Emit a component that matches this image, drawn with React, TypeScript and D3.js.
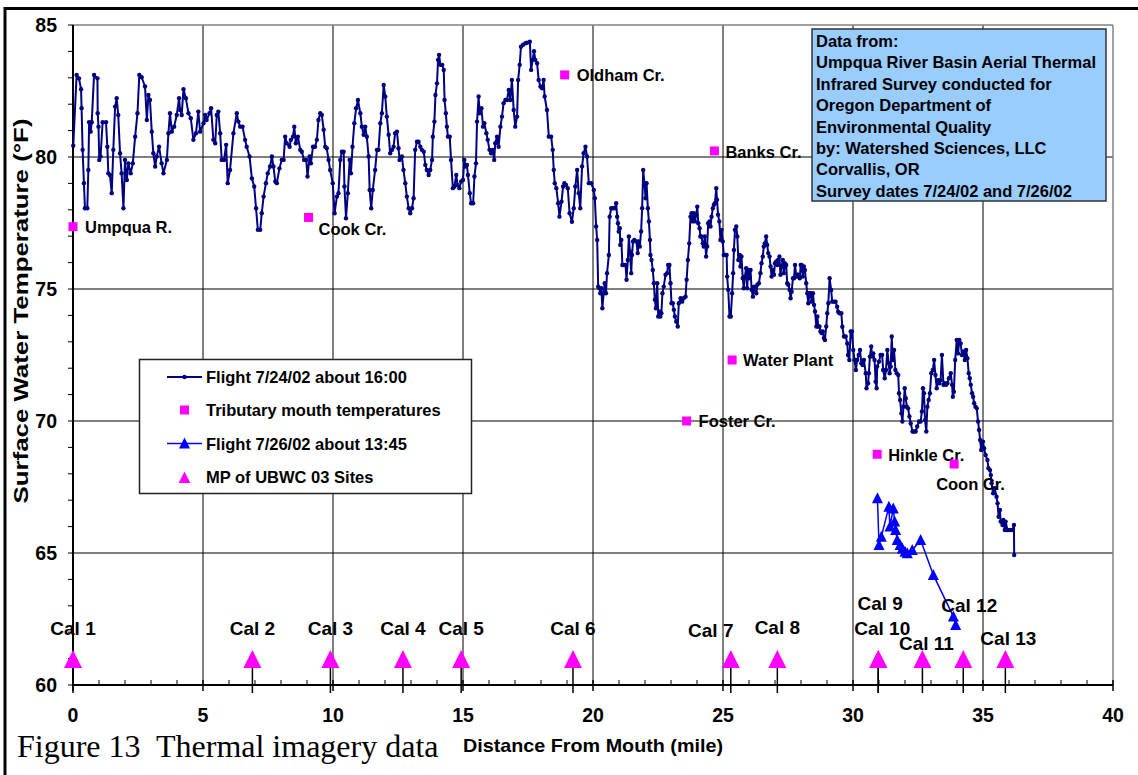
import React from 'react';
import * as d3 from 'd3';

// ---------------- DATA ----------------
const flight0724: [number, number][] = [
  [0.01,80.43],[0.14,83.11],[0.23,82.98],[0.31,82.57],[0.33,81.85],[0.37,80.27],[0.42,79.01],[0.46,78.06],[0.55,78.06],[0.59,79.51],[0.62,81.32],[0.68,80.96],[0.72,81.32],[0.81,83.11],[0.94,82.98],[0.95,81.66],[0.98,81.15],[1.01,79.89],[1.06,80.02],[1.14,81.32],[1.27,81.32],[1.32,80.39],[1.36,79.38],[1.42,79.32],[1.49,78.63],[1.55,80.27],[1.62,81.91],[1.68,82.23],[1.74,81.59],[1.81,80.14],[1.87,79.38],[1.94,78.06],[2.00,79.89],[2.07,79.13],[2.13,79.76],[2.22,79.38],[2.30,79.76],[2.39,80.77],[2.48,81.66],[2.55,83.11],[2.64,83.02],[2.77,82.67],[2.84,81.40],[2.90,82.35],[2.96,82.16],[3.03,80.96],[3.09,80.14],[3.16,79.64],[3.22,80.02],[3.31,80.39],[3.41,79.76],[3.48,79.38],[3.61,79.89],[3.67,80.90],[3.73,81.66],[3.80,80.96],[3.89,81.15],[3.99,81.59],[4.08,82.23],[4.12,81.78],[4.18,81.59],[4.25,82.57],[4.34,82.23],[4.44,81.66],[4.53,81.47],[4.63,80.65],[4.73,80.90],[4.82,81.72],[4.89,80.96],[5.02,81.28],[5.08,81.59],[5.14,81.40],[5.25,81.66],[5.31,81.85],[5.40,80.65],[5.47,80.52],[5.53,81.59],[5.59,81.72],[5.66,80.90],[5.72,79.89],[5.81,79.89],[5.89,80.46],[5.95,79.01],[6.04,79.51],[6.17,80.90],[6.30,81.66],[6.36,81.34],[6.43,81.15],[6.52,81.15],[6.62,80.65],[6.68,80.39],[6.79,80.02],[6.88,79.19],[6.97,78.88],[7.04,78.06],[7.11,77.24],[7.20,77.24],[7.26,77.87],[7.33,78.50],[7.42,79.01],[7.49,79.38],[7.58,79.64],[7.65,80.02],[7.71,79.64],[7.78,79.07],[7.84,79.01],[7.94,79.57],[8.03,79.89],[8.10,79.89],[8.16,80.77],[8.22,80.52],[8.33,80.39],[8.38,80.65],[8.46,80.77],[8.51,81.15],[8.57,80.52],[8.65,80.77],[8.74,80.27],[8.80,80.20],[8.89,79.89],[8.97,79.89],[9.02,79.26],[9.10,80.02],[9.15,79.76],[9.23,80.39],[9.31,80.39],[9.38,80.65],[9.44,81.40],[9.51,81.66],[9.57,81.59],[9.64,81.03],[9.70,80.39],[9.76,80.33],[9.83,79.89],[9.89,79.51],[9.99,79.01],[10.06,77.87],[10.15,78.50],[10.21,78.63],[10.28,79.89],[10.34,80.20],[10.41,80.20],[10.44,78.88],[10.50,77.68],[10.57,78.63],[10.64,79.89],[10.69,79.38],[10.75,80.39],[10.82,81.28],[10.89,81.85],[10.96,82.16],[11.05,81.66],[11.11,81.15],[11.18,80.84],[11.24,81.15],[11.30,80.77],[11.37,80.02],[11.41,78.75],[11.47,78.06],[11.53,78.75],[11.62,79.51],[11.69,80.27],[11.75,80.27],[11.82,81.28],[11.88,81.66],[11.95,82.73],[12.01,82.29],[12.07,81.53],[12.14,80.84],[12.20,80.14],[12.27,80.27],[12.33,80.39],[12.39,80.90],[12.46,80.96],[12.52,80.33],
  [12.56,79.89],[12.65,80.02],[12.71,79.51],[12.78,79.01],[12.84,78.50],[12.91,78.06],[12.97,77.87],[13.04,78.06],[13.10,78.44],[13.16,80.27],[13.23,80.58],[13.29,80.58],[13.36,80.39],[13.42,80.27],[13.49,80.20],[13.55,79.70],[13.61,79.51],[13.68,79.32],[13.74,79.51],[13.81,79.89],[13.84,80.77],[13.90,81.34],[13.94,82.35],[14.00,82.79],[14.04,83.68],[14.08,83.87],[14.13,83.49],[14.20,83.49],[14.26,83.30],[14.29,82.16],[14.34,81.66],[14.38,81.15],[14.42,80.77],[14.49,80.77],[14.54,79.89],[14.61,78.82],[14.67,78.88],[14.74,79.32],[14.79,78.94],[14.86,78.82],[14.93,79.07],[15.00,79.13],[15.05,79.89],[15.10,79.64],[15.15,79.70],[15.19,79.32],[15.26,78.63],[15.31,78.25],[15.39,78.25],[15.44,79.26],[15.50,79.76],[15.54,81.34],[15.60,82.29],[15.64,81.66],[15.71,81.85],[15.77,81.15],[15.82,81.28],[15.90,80.90],[15.95,80.65],[16.02,80.27],[16.08,80.14],[16.14,80.27],[16.20,79.89],[16.24,80.52],[16.31,80.77],[16.37,80.39],[16.44,81.15],[16.50,81.53],[16.56,82.04],[16.63,82.16],[16.69,82.16],[16.76,82.54],[16.82,82.16],[16.88,82.92],[16.95,81.78],[17.01,81.15],[17.08,81.53],[17.12,82.92],[17.18,83.49],[17.23,84.18],[17.31,84.25],[17.40,84.31],[17.46,84.33],[17.57,84.37],[17.62,83.30],[17.68,83.68],[17.73,84.01],[17.78,83.68],[17.85,83.55],[17.91,82.92],[17.98,82.67],[18.04,82.60],[18.10,82.92],[18.14,82.29],[18.23,81.78],[18.30,80.77],[18.39,80.77],[18.45,80.27],[18.49,79.51],[18.53,79.01],[18.59,78.82],[18.66,78.25],[18.71,77.74],[18.79,78.31],[18.85,78.88],[18.90,79.01],[18.96,78.94],[19.03,78.82],[19.10,77.87],[19.19,77.55],[19.26,78.06],[19.32,78.88],[19.39,79.51],[19.45,78.63],[19.51,78.06],[19.58,79.64],[19.64,80.14],[19.71,80.39],[19.77,80.02],[19.84,79.01],[19.93,79.01],[20.03,78.75],
  [20.07,78.44],[20.12,77.37],[20.16,76.86],[20.20,75.09],[20.25,75.03],[20.28,74.84],[20.32,75.03],[20.36,74.27],[20.41,74.84],[20.45,75.22],[20.50,74.84],[20.54,75.60],[20.61,76.29],[20.64,77.74],[20.70,78.06],[20.77,78.06],[20.84,78.06],[20.89,78.25],[20.93,77.74],[20.96,77.49],[20.99,77.18],[21.03,77.30],[21.05,76.67],[21.09,76.86],[21.13,75.91],[21.18,75.91],[21.25,75.91],[21.29,75.35],[21.34,76.10],[21.38,76.99],[21.42,76.42],[21.47,75.60],[21.50,76.29],[21.54,76.80],[21.59,76.86],[21.67,76.80],[21.72,76.36],[21.76,76.80],[21.80,76.61],[21.85,77.18],[21.89,78.06],[21.93,79.51],[21.98,79.01],[22.02,78.44],[22.06,79.01],[22.11,78.06],[22.15,77.56],[22.19,76.86],[22.21,76.29],[22.25,76.10],[22.30,75.72],[22.34,75.22],[22.38,74.59],[22.42,74.27],[22.47,75.22],[22.51,73.96],[22.56,74.15],[22.59,73.96],[22.63,74.08],[22.67,74.84],[22.72,75.09],[22.79,75.54],[22.85,75.60],[22.89,75.91],[22.94,75.91],[22.98,75.22],[23.02,74.46],[23.07,74.46],[23.11,74.21],[23.15,73.96],[23.20,73.77],[23.26,73.58],[23.30,74.46],[23.37,74.65],[23.43,74.52],[23.49,74.65],[23.56,74.71],[23.60,75.35],[23.65,76.10],[23.70,76.73],[23.75,77.74],[23.79,77.87],[23.83,77.56],[23.88,77.87],[23.92,77.56],[23.97,77.81],[24.01,78.12],[24.05,77.49],[24.10,77.30],[24.13,76.99],[24.17,76.99],[24.22,76.73],[24.26,76.61],[24.30,76.99],[24.35,76.23],[24.39,76.61],[24.43,77.49],[24.48,77.56],[24.52,77.37],[24.56,77.74],[24.61,78.06],[24.65,78.19],[24.69,78.25],[24.74,78.82],[24.77,78.38],[24.81,77.81],[24.86,77.56],[24.90,76.86],[24.94,77.24],[24.99,76.80],[25.03,76.29],[25.10,76.29],[25.14,76.29],[25.16,75.47],[25.20,74.97],[25.25,73.96],[25.30,73.96],[25.35,74.84],[25.39,75.60],[25.42,76.48],[25.46,77.24],[25.51,77.37],[25.55,76.99],[25.59,76.10],[25.64,76.29],[25.67,75.85],[25.71,76.23],[25.76,75.41],[25.80,75.03],[25.84,75.47],[25.89,75.79],[25.93,75.03],[25.97,75.72],[26.02,75.41],[26.06,75.72],[26.10,74.97],[26.15,74.71],[26.19,75.09],[26.23,74.97],[26.28,74.84],[26.32,75.16],[26.38,75.22],[26.44,75.60],[26.48,75.98],[26.53,76.23],[26.57,76.61],[26.61,76.73],[26.66,76.99],[26.70,76.67],[26.74,76.36],[26.79,76.23],[26.83,75.85],[26.87,75.47],[26.92,75.72],[26.96,75.54],[27.00,75.98],[27.05,76.04],[27.09,75.91],[27.12,76.10],[27.17,76.23],[27.21,75.54],[27.25,75.85],[27.30,76.10],[27.34,75.60],[27.38,75.98],[27.43,75.91],[27.47,75.22],[27.51,75.16],[27.56,74.97],[27.60,74.65],[27.64,74.90],[27.69,75.41],[27.73,75.41],[27.77,75.91],[27.82,75.47],[27.86,75.54],[27.90,75.54],[27.95,75.41],[27.99,75.91],[28.02,75.91],[28.07,75.47],[28.11,75.85],[28.15,75.72],[28.20,75.22],[28.24,74.84],[28.28,74.46],[28.33,74.84],[28.37,74.84],[28.41,74.52],[28.46,74.84],[28.50,74.40],[28.54,74.15],[28.59,73.58],[28.63,73.96],[28.66,73.58],[28.71,73.58],[28.75,73.39],[28.79,73.33],[28.84,73.39],[28.88,73.14],[28.92,73.07],[28.97,73.58],[29.01,74.08],[29.05,74.46],[29.10,75.41],
  [29.16,74.96],[29.20,74.52],[29.27,74.52],[29.33,74.52],[29.39,74.33],[29.43,74.14],[29.48,74.08],[29.55,74.08],[29.59,73.57],[29.65,73.20],[29.72,73.20],[29.78,72.94],[29.81,72.50],[29.86,72.31],[29.91,73.39],[29.96,73.39],[30.01,72.69],[30.06,72.31],[30.11,71.93],[30.16,72.31],[30.22,72.50],[30.27,72.69],[30.32,72.19],[30.37,72.12],[30.42,72.31],[30.49,71.81],[30.52,71.24],[30.58,71.43],[30.61,71.81],[30.65,72.44],[30.70,72.82],[30.74,72.44],[30.78,72.56],[30.83,72.31],[30.87,71.49],[30.91,71.24],[30.93,72.06],[31.00,72.25],[31.06,72.50],[31.12,72.50],[31.16,71.93],[31.22,71.62],[31.27,71.93],[31.32,72.69],[31.37,72.19],[31.41,71.81],[31.45,72.06],[31.49,73.20],[31.53,72.31],[31.58,72.69],[31.63,71.93],[31.68,71.81],[31.74,71.74],[31.77,71.05],[31.81,70.80],[31.86,70.29],[31.90,69.98],[31.94,70.54],[31.99,71.24],[32.03,70.86],[32.07,70.54],[32.12,70.48],[32.17,70.17],[32.22,69.91],[32.29,69.60],[32.35,69.60],[32.41,69.60],[32.47,69.79],[32.54,69.98],[32.60,69.98],[32.65,70.36],[32.69,71.24],[32.73,71.05],[32.77,70.04],[32.82,69.60],[32.86,70.54],[32.91,70.80],[32.96,71.05],[33.01,71.81],[33.07,71.93],[33.12,72.31],[33.17,71.74],[33.22,71.24],[33.27,71.55],[33.32,71.43],[33.37,71.55],[33.42,72.50],[33.48,71.37],[33.53,71.43],[33.58,71.37],[33.63,71.43],[33.69,71.62],[33.76,71.81],[33.81,71.37],[33.84,70.92],[33.88,71.11],[33.93,72.31],[33.99,73.07],[34.04,72.56],[34.09,73.07],[34.14,72.94],[34.19,72.50],[34.24,72.63],[34.30,72.31],[34.35,72.69],[34.40,72.38],[34.45,71.81],[34.49,71.62],[34.53,71.37],[34.58,71.05],[34.62,70.92],[34.66,70.67],[34.71,70.54],[34.76,70.48],[34.81,69.98],[34.85,69.66],[34.89,69.28],[34.93,68.90],[34.97,69.22],[35.00,69.22],[35.04,68.97],
  [35.10,68.71],[35.17,68.52],[35.21,68.21],[35.27,68.14],[35.30,67.95],[35.33,67.64],[35.39,67.26],[35.45,67.45],[35.52,67.13],[35.56,66.88],[35.60,66.37],[35.65,66.63],[35.68,66.19],[35.75,66.06],[35.78,66.25],[35.84,65.87],[35.87,66.19],[35.94,65.87],[36.04,65.87],[36.13,65.87],[36.19,66.06],[36.20,64.92],
];

const flight0726: [number, number][] = [
  [30.94,67.07],[31.00,65.30],[31.09,65.62],[31.38,66.75],[31.42,66.00],[31.55,66.69],[31.60,66.19],[31.64,65.87],[31.70,65.49],[31.81,65.30],[31.90,65.17],[32.00,65.05],[32.09,64.99],[32.28,65.11],[32.60,65.49],[33.09,64.17],[33.86,62.59],[33.95,62.27],
];

const tributaryNames = ['Umpqua R.', 'Cook Cr.', 'Oldham Cr.', 'Banks Cr.', 'Water Plant', 'Foster Cr.', 'Hinkle Cr.', 'Coon Cr.'];
const tributaryMiles = [0, 9.06, 18.91, 24.67, 25.35, 23.6, 30.93, 33.89];
const tributaryTemps = [77.36, 77.71, 83.11, 80.23, 72.31, 70.0, 68.74, 68.37];

const calNames = ['Cal 1', 'Cal 2', 'Cal 3', 'Cal 4', 'Cal 5', 'Cal 6', 'Cal 7', 'Cal 8', 'Cal 9', 'Cal 10', 'Cal 11', 'Cal 12', 'Cal 13'];
const calMiles = [0, 6.9, 9.9, 12.69, 14.93, 19.23, 25.3, 27.09, 30.97, 30.97, 32.67, 34.24, 35.86];
const calTemps = [61, 61, 61, 61, 61, 61, 61, 61, 61, 61, 61, 61, 61];

const xTicks = [0, 5, 10, 15, 20, 25, 30, 35, 40];
const yTicks = [60, 65, 70, 75, 80, 85];

const infoLines = [
  'Data from:',
  'Umpqua River Basin Aerial Thermal',
  'Infrared Survey conducted for',
  'Oregon Department of',
  'Environmental Quality',
  'by: Watershed Sciences, LLC',
  'Corvallis, OR',
  'Survey dates 7/24/02 and 7/26/02',
];

const legendLabels = [
  'Flight 7/24/02 about 16:00',
  'Tributary mouth temperatures',
  'Flight 7/26/02 about 13:45',
  'MP of UBWC 03 Sites',
];

// ---------------- LAYOUT / STYLE ----------------
const W = 1138, H = 775;
const PL = 73, PR = 1113, PT = 25, PB = 685;
const FONT = "'Liberation Sans', Arial, Helvetica, sans-serif";
const NAVY = '#000080';
const BLUE = '#0000FF';
const MAGENTA = '#FF00FF';

const tribLabelOffsets: [number, number][] = [[12, 0], [10, 12], [12, 0], [11, 1], [11, 0], [12, 0], [11, 1], [-18, 20]];
const calLabelOffsets: [number, number][] = [[0, -30], [0, -30], [0, -30], [0, -30], [0, -30], [0, -30], [-20, -28], [0, -31], [2, -55], [4, -30], [4, -15], [6, -53], [3, -20]];

const bigTri = 'M-9,9.4L9,9.4L0,-8.6Z';
const smallTri = 'M-5.5,5L5.5,5L0,-6Z';

export default function App() {
  const x = d3.scaleLinear().domain([0, 40]).range([PL, PR]);
  const y = d3.scaleLinear().domain([60, 85]).range([PB, PT]);
  const line = d3.line<[number, number]>().x(d => x(d[0])).y(d => y(d[1]));

  const minorX = d3.range(1, 40).filter(v => v % 5 !== 0);
  const minorY = d3.range(60, 86);

  const legendX = 139.5, legendY = 359.5, legendW = 332, legendH = 134;
  const legendRows = [377, 410, 443.5, 477];

  return (
    <svg width={W} height={H} style={{ position: 'fixed', left: 0, top: 0, background: '#fff' }} fontFamily={FONT}>
      <rect x={0} y={0} width={W} height={H} fill="#fff" />
      {/* figure frame */}
      <path d={`M5,${H}L5,8.5L${W},8.5`} fill="none" stroke="#000" strokeWidth={3} />

      {/* gridlines */}
      {xTicks.filter(v => v > 0 && v < 40).map(v => (
        <line key={'gx' + v} x1={x(v)} x2={x(v)} y1={PT} y2={PB} stroke="#000" strokeWidth={1} />
      ))}
      {yTicks.filter(v => v > 60 && v < 85).map(v => (
        <line key={'gy' + v} x1={PL} x2={PR} y1={y(v)} y2={y(v)} stroke="#000" strokeWidth={1} />
      ))}
      {/* plot border top/right */}
      <line x1={PL} x2={PR} y1={PT} y2={PT} stroke="#808080" strokeWidth={1.5} />
      <line x1={PR} x2={PR} y1={PT} y2={PB} stroke="#808080" strokeWidth={1.5} />

      {/* axes */}
      <line x1={PL} x2={PL} y1={PT} y2={PB} stroke="#000" strokeWidth={2} />
      <line x1={PL} x2={PR} y1={PB} y2={PB} stroke="#000" strokeWidth={2} />
      {minorY.map(v => (
        <line key={'ty' + v} x1={PL - 5} x2={PL} y1={y(v)} y2={y(v)} stroke="#000" strokeWidth={1} />
      ))}
      {minorX.map(v => (
        <line key={'tx' + v} x1={x(v)} x2={x(v)} y1={PB - 5} y2={PB} stroke="#000" strokeWidth={1} />
      ))}
      {xTicks.map(v => (
        <line key={'tX' + v} x1={x(v)} x2={x(v)} y1={PB - 5} y2={PB + 6} stroke="#000" strokeWidth={1.5} />
      ))}
      {yTicks.map(v => (
        <text key={'ly' + v} x={57} y={y(v)} textAnchor="end" dominantBaseline="central" fontSize={19.5} fontWeight="bold">{v}</text>
      ))}
      {xTicks.map(v => (
        <text key={'lx' + v} x={x(v)} y={722} textAnchor="middle" fontSize={19.5} fontWeight="bold">{v}</text>
      ))}

      {/* axis titles */}
      <text transform={`translate(28,311) rotate(-90)`} textAnchor="middle" fontSize={21} fontWeight="bold" textLength={385} lengthAdjust="spacingAndGlyphs">Surface Water Temperature (°F)</text>
      <text x={463} y={752} fontSize={19} fontWeight="bold" textLength={260} lengthAdjust="spacingAndGlyphs">Distance From Mouth (mile)</text>
      <text x={17} y={757} fontSize={32} style={{ whiteSpace: 'pre' }} fontFamily="'Liberation Serif', 'Times New Roman', serif">{'Figure 13  Thermal imagery data'}</text>

      {/* MP sites drop lines */}
      {calMiles.map((m, i) => (
        <line key={'dl' + i} x1={x(m)} x2={x(m)} y1={y(calTemps[i])} y2={PB + 8} stroke="#000" strokeWidth={1.5} />
      ))}

      {/* Flight 7/24 */}
      <path d={line(flight0724) || ''} fill="none" stroke={NAVY} strokeWidth={2} strokeLinejoin="round" />
      {flight0724.map((d, i) => (
        <circle key={'p' + i} cx={x(d[0])} cy={y(d[1])} r={2.2} fill={NAVY} />
      ))}

      {/* Flight 7/26 */}
      <path d={line(flight0726) || ''} fill="none" stroke={BLUE} strokeWidth={1.5} />
      {flight0726.map((d, i) => (
        <path key={'b' + i} d={smallTri} transform={`translate(${x(d[0])},${y(d[1])})`} fill={BLUE} />
      ))}

      {/* Tributaries */}
      {tributaryMiles.map((m, i) => (
        <g key={'tr' + i}>
          <rect x={x(m) - 4.5} y={y(tributaryTemps[i]) - 4.5} width={9} height={9} fill={MAGENTA} />
          <text x={x(m) + tribLabelOffsets[i][0]} y={y(tributaryTemps[i]) + tribLabelOffsets[i][1]} dominantBaseline="central" fontSize={16.5} fontWeight="bold">{tributaryNames[i]}</text>
        </g>
      ))}

      {/* MP sites */}
      {calMiles.map((m, i) => (
        <g key={'cal' + i}>
          <path d={bigTri} transform={`translate(${x(m)},${y(calTemps[i])})`} fill={MAGENTA} />
          <text x={x(m) + calLabelOffsets[i][0]} y={y(calTemps[i]) + calLabelOffsets[i][1]} textAnchor="middle" dominantBaseline="central" fontSize={19} fontWeight="bold">{calNames[i]}</text>
        </g>
      ))}

      {/* Legend */}
      <rect x={legendX} y={legendY} width={legendW} height={legendH} fill="#fff" stroke="#222" strokeWidth={1.5} />
      {legendLabels.map((t, i) => (
        <text key={'lg' + i} x={206} y={legendRows[i]} dominantBaseline="central" fontSize={16.5} fontWeight="bold">{t}</text>
      ))}
      <line x1={167} x2={202} y1={legendRows[0]} y2={legendRows[0]} stroke={NAVY} strokeWidth={2} />
      <circle cx={184.5} cy={legendRows[0]} r={2.2} fill={NAVY} />
      <rect x={180} y={legendRows[1] - 4.5} width={9} height={9} fill={MAGENTA} />
      <line x1={167} x2={202} y1={legendRows[2]} y2={legendRows[2]} stroke={BLUE} strokeWidth={1.5} />
      <path d={smallTri} transform={`translate(184.5,${legendRows[2]})`} fill={BLUE} />
      <path d={bigTri} transform={`translate(184.5,${legendRows[3]}) scale(0.65)`} fill={MAGENTA} />

      {/* Info box */}
      <rect x={812} y={29} width={294} height={172} fill="#99CCFF" stroke="#333" strokeWidth={1.5} />
      {infoLines.map((t, i) => (
        <text key={'in' + i} x={816} y={47 + i * 21.4} fontSize={16.5} fontWeight="bold">{t}</text>
      ))}
    </svg>
  );
}
